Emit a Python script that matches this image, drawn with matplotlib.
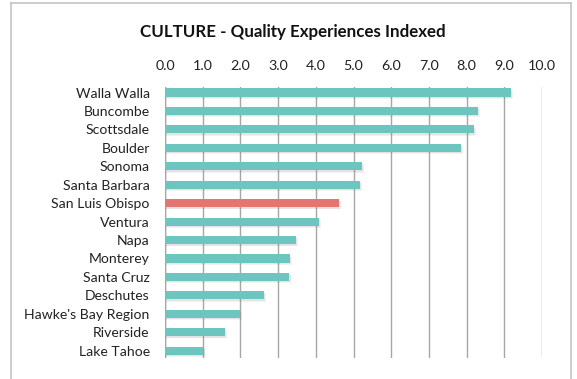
import matplotlib.pyplot as plt
from matplotlib.lines import Line2D

# index scores per destination
places = ['Walla Walla', 'Buncombe', 'Scottsdale', 'Boulder', 'Sonoma',
          'Santa Barbara', 'San Luis Obispo', 'Ventura', 'Napa', 'Monterey',
          'Santa Cruz', 'Deschutes', "Hawke's Bay Region", 'Riverside', 'Lake Tahoe']
scores = [9.17, 8.30, 8.20, 7.85, 5.23, 5.18, 4.62, 4.08, 3.47, 3.32,
          3.30, 2.63, 1.99, 1.59, 1.02]
highlight = 'San Luis Obispo'
ticks = [0, 1, 2, 3, 4, 5, 6, 7, 8, 9, 10]

teal = '#6cc6bf'
red = '#e5766f'
plt.rcParams['font.family'] = ['Lato', 'DejaVu Sans']

fig = plt.figure(figsize=(5.77, 3.79), dpi=100)
ax = fig.add_axes([165/577, 1 - 358/379, (542 - 165)/577, (358 - 87)/379])

ypos = list(range(len(places)))
colors = [red if p == highlight else teal for p in places]

# soft drop shadow under each bar
for dx, dy, a in [(0.05, 0.12, 0.10), (0.03, 0.08, 0.12)]:
    ax.barh([y + dy for y in ypos], [s + dx for s in scores], height=0.44,
            color='#808080', alpha=a, zorder=2, linewidth=0)
ax.barh(ypos, scores, height=0.44, color=colors, zorder=3, linewidth=0)

ax.set_xlim(0, 10)
ax.set_ylim(14.4, -0.3)
ax.set_xticks(ticks)
ax.set_xticklabels([f'{t:.1f}' for t in ticks])
ax.xaxis.tick_top()
ax.set_yticks(ypos)
ax.set_yticklabels(places)
ax.tick_params(axis='x', length=0, pad=11, labelsize=10.3, colors='#222222')
ax.tick_params(axis='y', length=0, pad=11, labelsize=10.1, colors='#222222')
ax.grid(axis='x', color='#a6a6a6', linewidth=1.0, zorder=0)
for s in ax.spines.values():
    s.set_visible(False)
ax.axvline(0, color='#a6a6a6', linewidth=1.0, zorder=1)

fig.text(0.508, 1 - 32/379, 'CULTURE - Quality Experiences Indexed',
         ha='center', va='center', fontsize=12.2, fontweight='bold', color='#111111')

# chart border
bc = '#c4c4c4'
fig.add_artist(Line2D([11/577, 11/577], [0, 1 - 3/379], color=bc, lw=1.2))
fig.add_artist(Line2D([11/577, 571/577], [1 - 3/379, 1 - 3/379], color=bc, lw=1.2))
fig.add_artist(Line2D([571/577, 571/577], [0, 1 - 3/379], color=bc, lw=1.2))

fig.savefig('out.png', dpi=100)
